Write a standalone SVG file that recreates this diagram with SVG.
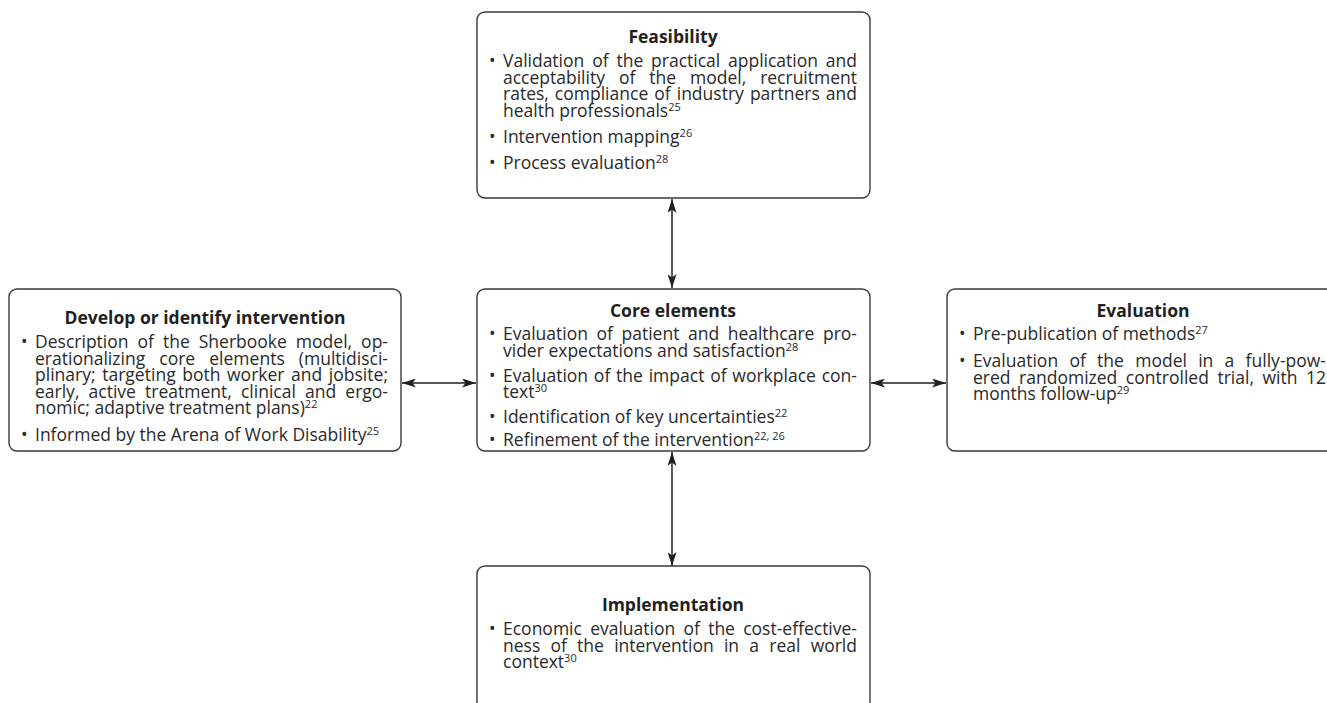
<svg xmlns="http://www.w3.org/2000/svg" width="1327" height="703" viewBox="0 0 1327 703">
<style>
.box{fill:#ffffff;stroke:#3a3a3a;stroke-width:1.4}
.t{font-family:"Open Sans","Noto Sans","Liberation Sans",sans-serif;font-size:17.5px;fill:#2a2a2a}
.h{font-family:"Open Sans","Noto Sans","Liberation Sans",sans-serif;font-size:17.5px;font-weight:bold;fill:#231f20;text-anchor:middle}
.s{font-size:11px}
.c{stroke:#231f20;stroke-width:1.5;fill:none}
</style>
<defs>
<marker id="ah" viewBox="0 0 14 9" refX="14" refY="4.5" markerWidth="14" markerHeight="9" markerUnits="userSpaceOnUse" orient="auto-start-reverse">
<path d="M0,0 L14,4.5 L0,9 L3.5,4.5 Z" fill="#231f20"/>
</marker>
</defs>
<rect width="1327" height="703" fill="#ffffff"/>
<g id="connectors">
<line class="c" x1="672" y1="199" x2="672" y2="288" marker-start="url(#ah)" marker-end="url(#ah)"/>
<line class="c" x1="402" y1="383" x2="476" y2="383" marker-start="url(#ah)" marker-end="url(#ah)"/>
<line class="c" x1="871" y1="383" x2="946" y2="383" marker-start="url(#ah)" marker-end="url(#ah)"/>
<line class="c" x1="672" y1="452" x2="672" y2="566" marker-start="url(#ah)" marker-end="url(#ah)"/>
</g>
<g id="feasibility">
<rect class="box" x="477" y="12" width="393" height="186" rx="8"/>
<text class="h" x="673" y="43">Feasibility</text>
<text class="t" x="489" y="67">•</text>
<text class="t" x="503" y="67" word-spacing="3.4" textLength="354" lengthAdjust="spacing">Validation of the practical application and</text>
<text class="t" x="503" y="83.5" word-spacing="9.4" textLength="354" lengthAdjust="spacing">acceptability of the model, recruitment</text>
<text class="t" x="503" y="100" word-spacing="1.5" textLength="354" lengthAdjust="spacing">rates, compliance of industry partners and</text>
<text class="t" x="503" y="116.5">health professionals<tspan class="s" dy="-6">25</tspan></text>
<text class="t" x="489" y="143">•</text>
<text class="t" x="503" y="143">Intervention mapping<tspan class="s" dy="-6">26</tspan></text>
<text class="t" x="489" y="168.5">•</text>
<text class="t" x="503" y="168.5">Process evaluation<tspan class="s" dy="-6">28</tspan></text>
</g>
<g id="develop">
<rect class="box" x="9" y="289" width="392" height="162" rx="8"/>
<text class="h" x="205" y="324">Develop or identify intervention</text>
<text class="t" x="21" y="348">•</text>
<text class="t" x="35" y="348" word-spacing="4.4" textLength="353" lengthAdjust="spacing">Description of the Sherbooke model, op-</text>
<text class="t" x="35" y="364.5" word-spacing="9.5" textLength="353" lengthAdjust="spacing">erationalizing core elements (multidisci-</text>
<text class="t" x="35" y="381" word-spacing="2" textLength="353" lengthAdjust="spacing">plinary; targeting both worker and jobsite;</text>
<text class="t" x="35" y="397.5" word-spacing="4.6" textLength="353" lengthAdjust="spacing">early, active treatment, clinical and ergo-</text>
<text class="t" x="35" y="414">nomic; adaptive treatment plans)<tspan class="s" dy="-6">22</tspan></text>
<text class="t" x="21" y="441">•</text>
<text class="t" x="35" y="441">Informed by the Arena of Work Disability<tspan class="s" dy="-6">25</tspan></text>
</g>
<g id="core">
<rect class="box" x="477" y="289" width="393" height="162" rx="8"/>
<text class="h" x="673" y="317">Core elements</text>
<text class="t" x="489" y="340">•</text>
<text class="t" x="503" y="340" word-spacing="4" textLength="354" lengthAdjust="spacing">Evaluation of patient and healthcare pro-</text>
<text class="t" x="503" y="356.5">vider expectations and satisfaction<tspan class="s" dy="-6">28</tspan></text>
<text class="t" x="489" y="381.5">•</text>
<text class="t" x="503" y="381.5" word-spacing="1.2" textLength="354" lengthAdjust="spacing">Evaluation of the impact of workplace con-</text>
<text class="t" x="503" y="398">text<tspan class="s" dy="-6">30</tspan></text>
<text class="t" x="489" y="422.5">•</text>
<text class="t" x="503" y="422.5">Identification of key uncertainties<tspan class="s" dy="-6">22</tspan></text>
<text class="t" x="489" y="446">•</text>
<text class="t" x="503" y="446">Refinement of the intervention<tspan class="s" dy="-6">22, 26</tspan></text>
</g>
<g id="evaluation">
<rect class="box" x="947" y="289" width="392" height="162" rx="8"/>
<text class="h" x="1143" y="317">Evaluation</text>
<text class="t" x="959" y="340">•</text>
<text class="t" x="973" y="340">Pre-publication of methods<tspan class="s" dy="-6">27</tspan></text>
<text class="t" x="959" y="367">•</text>
<text class="t" x="973" y="367" word-spacing="6.7" textLength="353" lengthAdjust="spacing">Evaluation of the model in a fully-pow-</text>
<text class="t" x="973" y="383.5" word-spacing="4" textLength="353" lengthAdjust="spacing">ered randomized controlled trial, with 12</text>
<text class="t" x="973" y="400">months follow-up<tspan class="s" dy="-6">29</tspan></text>
</g>
<g id="implementation">
<rect class="box" x="477" y="566" width="393" height="150" rx="8"/>
<text class="h" x="673" y="611">Implementation</text>
<text class="t" x="489" y="635">•</text>
<text class="t" x="503" y="635" word-spacing="3.7" textLength="354" lengthAdjust="spacing">Economic evaluation of the cost-effective-</text>
<text class="t" x="503" y="651.5" word-spacing="5.7" textLength="354" lengthAdjust="spacing">ness of the intervention in a real world</text>
<text class="t" x="503" y="668">context<tspan class="s" dy="-6">30</tspan></text>
</g>
</svg>
